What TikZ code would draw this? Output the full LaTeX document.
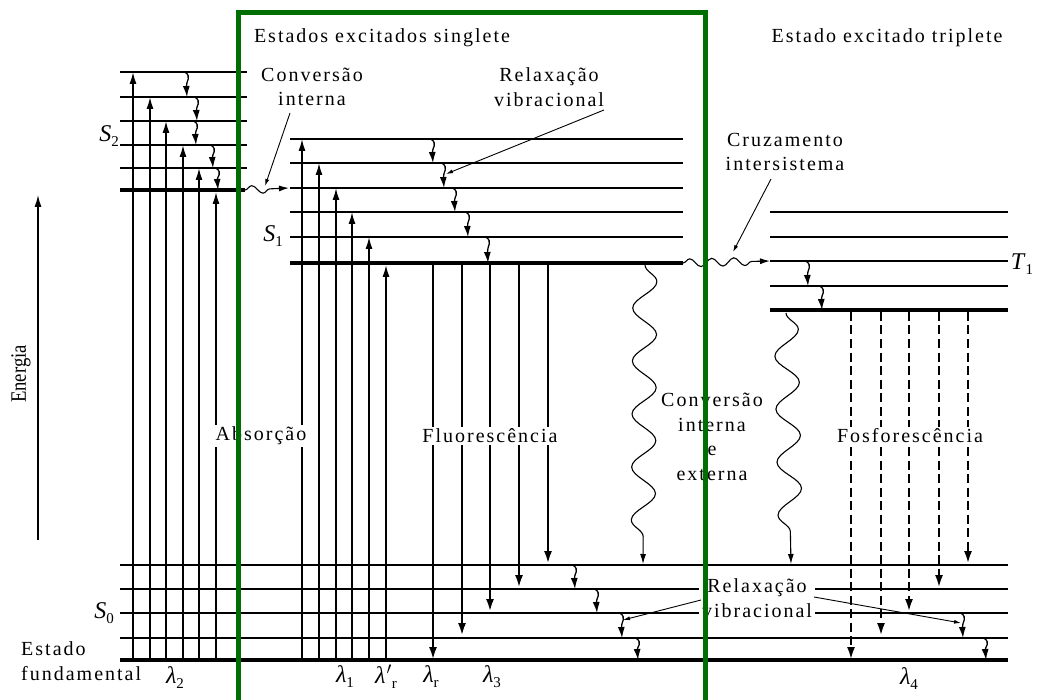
\documentclass[tikz,border=0pt]{standalone}
\usepackage{fontspec}
\setmainfont{Liberation Serif}
\newfontfamily\tfont{Liberation Serif}[LetterSpace=10]
\usetikzlibrary{arrows.meta,decorations.pathmorphing}
\definecolor{framegreen}{RGB}{0,110,0}
% symbol with a lowered index, set in the text font
\newcommand\idx[2]{\textit{#1}\raisebox{-5pt}{\fontsize{15}{15}\selectfont#2}}
\begin{document}
\begin{tikzpicture}[x=1pt,y=-1pt,
  level/.style={line width=1.3pt},
  base/.style={line width=4pt},
  absorb/.style={line width=1.5pt,-{Latex[length=12pt,width=7pt]}},
  emit/.style={line width=2.6pt,-{Latex[length=13pt,width=8pt]}},
  phos/.style={line width=2.6pt,dash pattern=on 9pt off 4.5pt,-{Latex[length=13pt,width=8pt]}},
  relax/.style={line width=1.3pt,-{Latex[length=11pt,width=7pt]}},
  leader/.style={line width=0.9pt,-{Latex[length=7pt,width=4pt]}},
  bigwave/.style={line width=1.1pt,decorate,decoration={snake,amplitude=12pt,segment length=53pt,post length=10pt},-{Latex[length=10pt,width=6pt]}},
  smallwave/.style={line width=1.1pt,decorate,decoration={snake,amplitude=4pt,segment length=22pt,post length=10pt},-{Latex[length=10pt,width=6pt]}},
  lbl/.style={font=\tfont\fontsize{20}{24.5}\selectfont,inner sep=1pt},
  boxed/.style={lbl,fill=white,inner sep=2pt},
  symlbl/.style={font=\rmfamily\fontsize{24}{26}\selectfont,inner sep=0pt}
]
\useasboundingbox (0,0) rectangle (1038,700);
\fill[white] (0,0) rectangle (1038,700);

% ---------- energy levels ----------
% S2
\foreach \y [count=\i] in {72,97,121,145,168}{
  \coordinate (sA\i) at (120,\y); \coordinate (sB\i) at (247,\y);
  \draw[level] (sA\i) -- (sB\i);}
\coordinate (s2l) at (120,190); \coordinate (s2r) at (245,190);
\draw[base] (s2l) -- (s2r);
% S1
\foreach \y [count=\i] in {139,163,188,212,237}{
  \coordinate (tA\i) at (290,\y); \coordinate (tB\i) at (683,\y);
  \draw[level] (tA\i) -- (tB\i);}
\coordinate (s1l) at (290,263); \coordinate (s1r) at (683,263);
\draw[base] (s1l) -- (s1r);
% T1
\foreach \y [count=\i] in {212,237,261,286}{
  \coordinate (uA\i) at (770,\y); \coordinate (uB\i) at (1008,\y);
  \draw[level] (uA\i) -- (uB\i);}
\coordinate (t1l) at (770,310); \coordinate (t1r) at (1008,310);
\draw[base] (t1l) -- (t1r);
% S0
\foreach \y [count=\i] in {565,589,613,638}{
  \coordinate (gA\i) at (120,\y); \coordinate (gB\i) at (1008,\y);
  \draw[level] (gA\i) -- (gB\i);}
\coordinate (s0l) at (120,660); \coordinate (s0r) at (1008,660);
\draw[base] (s0l) -- (s0r);

% ---------- absorption ----------
\foreach \x/\y [count=\i] in {133/72,150/97,166/121,183/145,199/168,216/192}{
  \coordinate (aA\i) at (\x,660); \coordinate (aB\i) at (\x,\y);
  \draw[absorb] (aA\i) -- (aB\i);}
\foreach \x/\y [count=\i] in {302/139,319/163,336/188,352/212,369/237,386/265}{
  \coordinate (bA\i) at (\x,660); \coordinate (bB\i) at (\x,\y);
  \draw[absorb] (bA\i) -- (bB\i);}

% ---------- vibrational relaxation ----------
\foreach \x/\ya/\yb [count=\i] in {187/72/97,197/97/121,196/121/145,213/145/168,218/168/190,
  433/139/163,444/163/188,455/188/212,468/212/237,488/237/263,
  808/261/286,822/286/310,
  575/565/589,597/589/613,622/613/638,638/638/660,
  963/613/638,986/638/660}{
  \coordinate (rA\i) at ({\x-2},\ya); \coordinate (rB\i) at (\x,\yb);
  \draw[relax] (rA\i) .. controls ({\x+5},{\ya+5}) and ({\x-1},{\ya+9}) .. (rB\i);}

% ---------- fluorescence ----------
\foreach \x/\y [count=\i] in {433/660,462/636,490/612,519/588,548/564}{
  \coordinate (fA\i) at (\x,263); \coordinate (fB\i) at (\x,\y);
  \draw[emit] (fA\i) -- (fB\i);}

% ---------- phosphorescence ----------
\foreach \x/\y [count=\i] in {851/660,881/636,909/612,939/588,968/564}{
  \coordinate (pA\i) at (\x,312); \coordinate (pB\i) at (\x,\y);
  \draw[phos] (pA\i) -- (pB\i);}

% ---------- non-radiative transitions ----------
\coordinate (icA) at (245,190); \coordinate (icB) at (289,188);
\draw[smallwave] (icA) -- (icB);
\coordinate (iscA) at (683,263); \coordinate (iscB) at (770,261);
\draw[smallwave] (iscA) -- (iscB);
\coordinate (ceA) at (645,265); \coordinate (ceB) at (643,564);
\draw[bigwave] (ceA) -- (ceB);
\coordinate (tcA) at (786,313); \coordinate (tcB) at (791,564);
\draw[bigwave] (tcA) -- (tcB);

% ---------- energy axis ----------
\coordinate (eA) at (38,540); \coordinate (eB) at (38,195);
\draw[line width=1.3pt,-{Latex[length=12pt,width=7pt]}] (eA) -- (eB);
\node[rotate=90,font=\rmfamily\fontsize{22}{24}\selectfont,inner sep=0pt] (energia) at (21,374) {\scalebox{0.85}[1]{Energia}};

% ---------- labels ----------
\node[lbl] (hs) at (382,38) {Estados excitados singlete};
\node[lbl] (ht) at (887,38) {Estado excitado triplete};
\node[lbl,align=center] (ci) at (312,87) {Conversão\\interna};
\node[lbl,align=center] (rvt) at (549,87) {Relaxação\\vibracional};
\node[lbl,align=center] (cr) at (785,152) {Cruzamento\\intersistema};
\node[boxed] (abs) at (261,436) {Absorção};
\node[boxed] (flu) at (490,436) {Fluorescência};
\node[boxed] (fos) at (910,436) {Fosforescência};
\node[lbl,align=center] (cie) at (712,437) {Conversão\\interna\\e\\externa};
\node[boxed,align=center,inner sep=3pt] (rvb) at (757,598) {Relaxação\\vibracional};
\node[lbl,align=left,anchor=west] (ef) at (20,661) {Estado\\fundamental};

\node[symlbl] (ls2) at (109,136) {\idx{S}{2}};
\node[symlbl] (ls1) at (273,236) {\idx{S}{1}};
\node[symlbl] (ls0) at (104,613) {\idx{S}{0}};
\node[symlbl] (lt1) at (1022,264) {\idx{T}{1}};

\node[symlbl] (l2) at (175,678) {\idx{λ}{2}};
\node[symlbl] (l1) at (345,677) {\idx{λ}{1}};
\node[symlbl] (lrp) at (386,677) {\idx{λ\kern1pt$'$}{r}};
\node[symlbl] (lr) at (431,677) {\idx{λ}{r}};
\node[symlbl] (l3) at (492,677) {\idx{λ}{3}};
\node[symlbl] (l4) at (909,679) {\idx{λ}{4}};

% ---------- leader lines ----------
\coordinate (ciL) at (290,113); \coordinate (ciT) at (265,186);
\draw[leader] (ciL) -- (ciT);
\coordinate (rvL) at (604,110); \coordinate (rvT) at (446,174);
\draw[leader] (rvL) -- (rvT);
\coordinate (crL) at (771,179); \coordinate (crT) at (733,252);
\draw[leader] (crL) -- (crT);
\coordinate (rbL) at (701,600); \coordinate (rbT) at (623,620);
\draw[leader] (rbL) -- (rbT);
\coordinate (rbR) at (814,597); \coordinate (rbS) at (961,623);
\draw[leader] (rbR) -- (rbS);

% ---------- singlet frame ----------
\coordinate (fr1) at (238,700); \coordinate (fr2) at (238,13);
\coordinate (fr3) at (705,13); \coordinate (fr4) at (705,700);
\draw[framegreen,line width=5pt,line join=miter] (fr1) -- (fr2) -- (fr3) -- (fr4);
\end{tikzpicture}
\end{document}
